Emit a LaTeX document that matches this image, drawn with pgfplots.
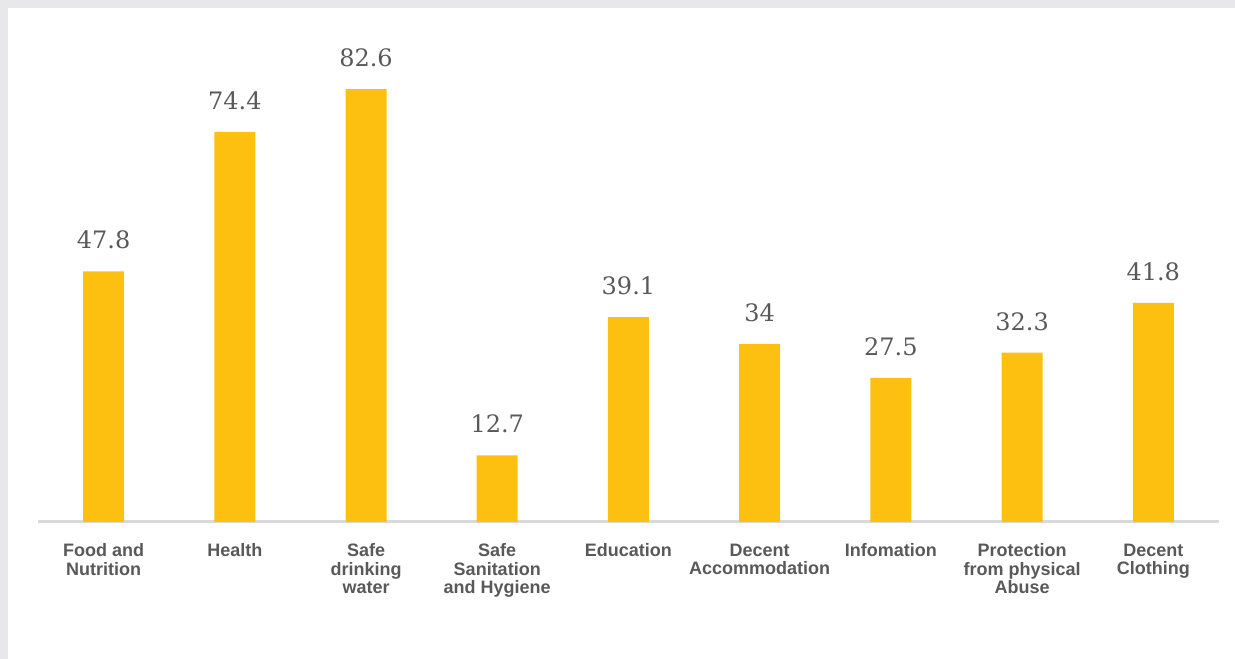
\documentclass[border=0pt]{standalone}
\usepackage{pgfplots}
\pgfplotsset{compat=1.18}
\usepackage{fontspec}
\setmainfont{Liberation Sans}
\newfontfamily\valfont{DejaVu Serif}
\definecolor{barc}{RGB}{253,192,16}
\definecolor{txt}{RGB}{89,89,89}
\definecolor{bgc}{RGB}{232,232,234}
\definecolor{axl}{RGB}{217,217,217}
\begin{document}
\begin{tikzpicture}[x=1pt,y=1pt]
\fill[bgc] (0,0) rectangle (1235,659);
\fill[white] (8,0) rectangle (1235,651);
\useasboundingbox (0,0) rectangle (1235,659);
\begin{axis}[
  at={(38pt,137pt)}, anchor=south west,
  scale only axis, width=1181pt, height=498pt,
  xmin=-0.5, xmax=8.5, ymin=0, ymax=95,
  axis y line=none,
  axis x line*=bottom,
  x axis line style={draw=axl, line width=3pt, -},
  ytick=\empty,
  xtick={0,1,2,3,4,5,6,7,8},
  major tick length=0pt,
  xticklabels={{Food and\\Nutrition},{Health},{Safe\\drinking\\water},{Safe\\Sanitation\\and Hygiene},{Education},{Decent\\Accommodation},{Infomation},{Protection\\from physical\\Abuse},{Decent\\Clothing}},
  xticklabel style={align=center, font=\bfseries\fontsize{18}{18.6}\selectfont, text=txt, inner sep=0pt, anchor=north, yshift=-21.5pt},
  ybar, bar width=41pt,
  point meta=explicit symbolic,
  nodes near coords,
  every node near coord/.append style={font=\valfont\fontsize{24}{28}\selectfont, text=txt, inner sep=0pt, anchor=south, yshift=22pt},
  clip=false,
]
\addplot[fill=barc, draw=none] coordinates {
 (0,47.8) [47.8]
 (1,74.4) [74.4]
 (2,82.6) [82.6]
 (3,12.7) [12.7]
 (4,39.1) [39.1]
 (5,34) [34]
 (6,27.5) [27.5]
 (7,32.3) [32.3]
 (8,41.8) [41.8]
};
\end{axis}
\end{tikzpicture}
\end{document}
